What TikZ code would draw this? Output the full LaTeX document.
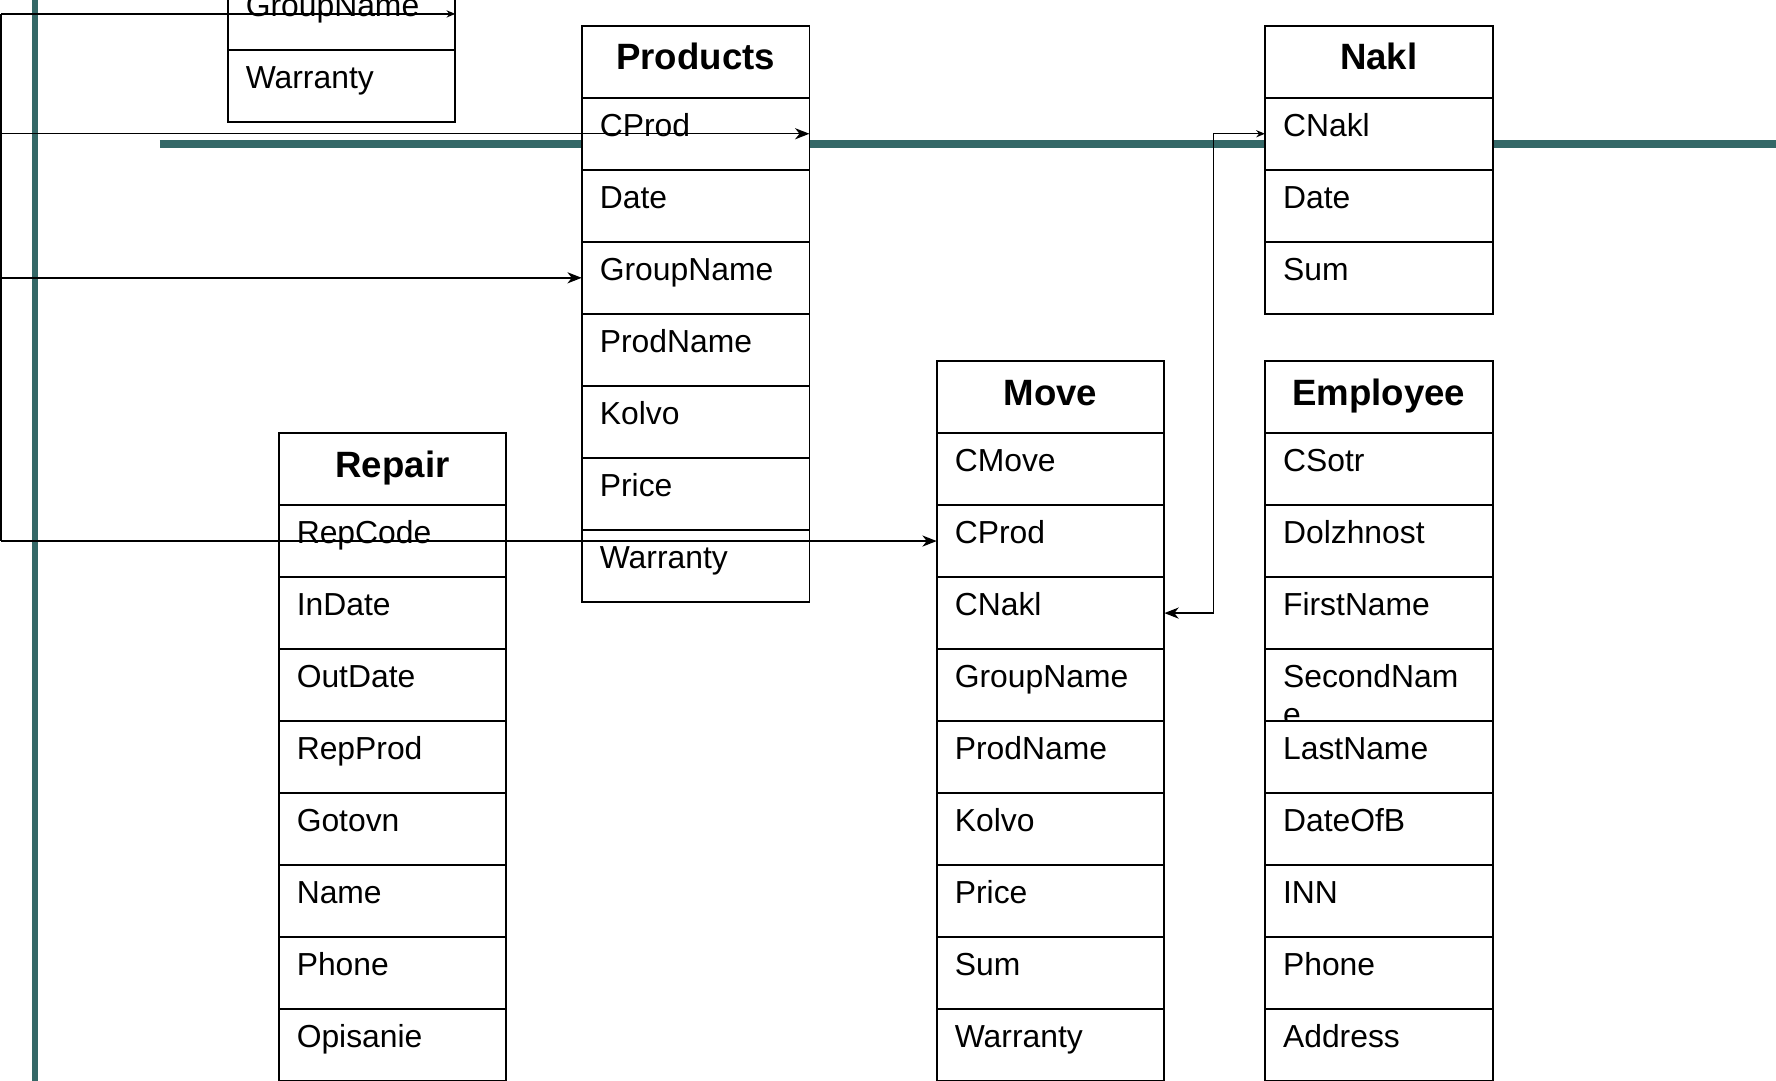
\documentclass[tikz,border=0pt]{standalone}
\usepackage{fontspec}
\setmainfont{Liberation Sans}
\usetikzlibrary{positioning,arrows.meta}
\definecolor{tealline}{RGB}{52,104,103}

\begin{document}
\begin{tikzpicture}[node distance=0pt,
    tblhead/.style={rectangle,draw=black,fill=white,line width=0.45pt,outer sep=0pt,minimum width=2.01cm,minimum height=0.636cm,inner sep=0pt,font=\fontsize{9.2}{11}\selectfont\bfseries,text height=0.146cm,text depth=0pt},
    tblrow/.style={rectangle,draw=black,fill=white,line width=0.45pt,outer sep=0pt,minimum width=2.01cm,minimum height=0.636cm,inner xsep=0.16cm,inner ysep=0pt,text width=1.69cm,align=left,font=\fontsize{8}{9.6}\selectfont,text height=0.142cm,text depth=0.1cm},
    link/.style={line width=0.35pt,-{Stealth[length=3.6pt,width=2.8pt,inset=1.1pt]}},
    linksm/.style={line width=0.35pt,-{Stealth[length=2.2pt,width=1.8pt,inset=0.7pt]}}]
      \useasboundingbox (0,0) rectangle (15.68,-9.54);

      %teal rules
      \draw[tealline,line width=1.35pt] (0.309,0.1) -- (0.309,-9.7);
      \draw[tealline,line width=1.9pt] (1.412,-1.27) -- (15.8,-1.27);

      %group table (cut at the top)
      \node[tblrow,anchor=north west] (grp-name) at (2.01,0.195) {GroupName};
      \node[tblrow,below=of grp-name] (grp-warr) {Warranty};

      %products
      \node[tblhead,anchor=north west] (prod) at (5.136,-0.227) {Products};
      \node[tblrow,below=of prod] (prod-cprod) {CProd};
      \node[tblrow,below=of prod-cprod] (prod-date) {Date};
      \node[tblrow,below=of prod-date] (prod-grp) {GroupName};
      \node[tblrow,below=of prod-grp] (prod-pname) {ProdName};
      \node[tblrow,below=of prod-pname] (prod-kolvo) {Kolvo};
      \node[tblrow,below=of prod-kolvo] (prod-price) {Price};
      \node[tblrow,below=of prod-price] (prod-warr) {Warranty};

      %nakl
      \node[tblhead,anchor=north west] (nakl) at (11.168,-0.227) {Nakl};
      \node[tblrow,below=of nakl] (nakl-cnakl) {CNakl};
      \node[tblrow,below=of nakl-cnakl] (nakl-date) {Date};
      \node[tblrow,below=of nakl-date] (nakl-sum) {Sum};

      %move
      \node[tblhead,anchor=north west] (move) at (8.27,-3.187) {Move};
      \node[tblrow,below=of move] (move-cmove) {CMove};
      \node[tblrow,below=of move-cmove] (move-cprod) {CProd};
      \node[tblrow,below=of move-cprod] (move-cnakl) {CNakl};
      \node[tblrow,below=of move-cnakl] (move-grp) {GroupName};
      \node[tblrow,below=of move-grp] (move-pname) {ProdName};
      \node[tblrow,below=of move-pname] (move-kolvo) {Kolvo};
      \node[tblrow,below=of move-kolvo] (move-price) {Price};
      \node[tblrow,below=of move-price] (move-sum) {Sum};
      \node[tblrow,below=of move-sum] (move-warr) {Warranty};

      %employee
      \node[tblhead,anchor=north west] (emp) at (11.168,-3.187) {Employee};
      \node[tblrow,below=of emp] (emp-csotr) {CSotr};
      \node[tblrow,below=of emp-csotr] (emp-dolzh) {Dolzhnost};
      \node[tblrow,below=of emp-dolzh] (emp-fname) {FirstName};
      \node[tblrow,below=of emp-fname] (emp-sname) {\vtop{\hbox{SecondNam}\hbox{e}}};
      \node[tblrow,below=of emp-sname] (emp-lname) {LastName};
      \node[tblrow,below=of emp-lname] (emp-dob) {DateOfB};
      \node[tblrow,below=of emp-dob] (emp-inn) {INN};
      \node[tblrow,below=of emp-inn] (emp-phone) {Phone};
      \node[tblrow,below=of emp-phone] (emp-addr) {Address};

      %repair
      \node[tblhead,anchor=north west] (rep) at (2.46,-3.823) {Repair};
      \node[tblrow,below=of rep] (rep-code) {RepCode};
      \node[tblrow,below=of rep-code] (rep-indate) {InDate};
      \node[tblrow,below=of rep-indate] (rep-outdate) {OutDate};
      \node[tblrow,below=of rep-outdate] (rep-prod) {RepProd};
      \node[tblrow,below=of rep-prod] (rep-gotovn) {Gotovn};
      \node[tblrow,below=of rep-gotovn] (rep-name) {Name};
      \node[tblrow,below=of rep-name] (rep-phone) {Phone};
      \node[tblrow,below=of rep-phone] (rep-opis) {Opisanie};

      %links
      \coordinate (trunk) at (0.008,0);
      \coordinate (jog) at (10.715,0);
      \draw[line width=0.35pt] (grp-name.east -| trunk) -- (move-cprod.west -| trunk);
      \draw[linksm] (grp-name.east -| trunk) -- (grp-name.east);
      \draw[link] (prod-cprod.east -| trunk) -- (prod-cprod.east);
      \draw[link] (prod-grp.west -| trunk) -- (prod-grp.west);
      \draw[link] (move-cprod.west -| trunk) -- (move-cprod.west);
      \draw[line width=0.35pt,{Stealth[length=3.6pt,width=2.8pt,inset=1.1pt]}-{Stealth[length=2.2pt,width=1.8pt,inset=0.7pt]}] (move-cnakl.east) -- (move-cnakl.east -| jog) -- (nakl-cnakl.west -| jog) -- (nakl-cnakl.west);

    \end{tikzpicture}
\end{document}
